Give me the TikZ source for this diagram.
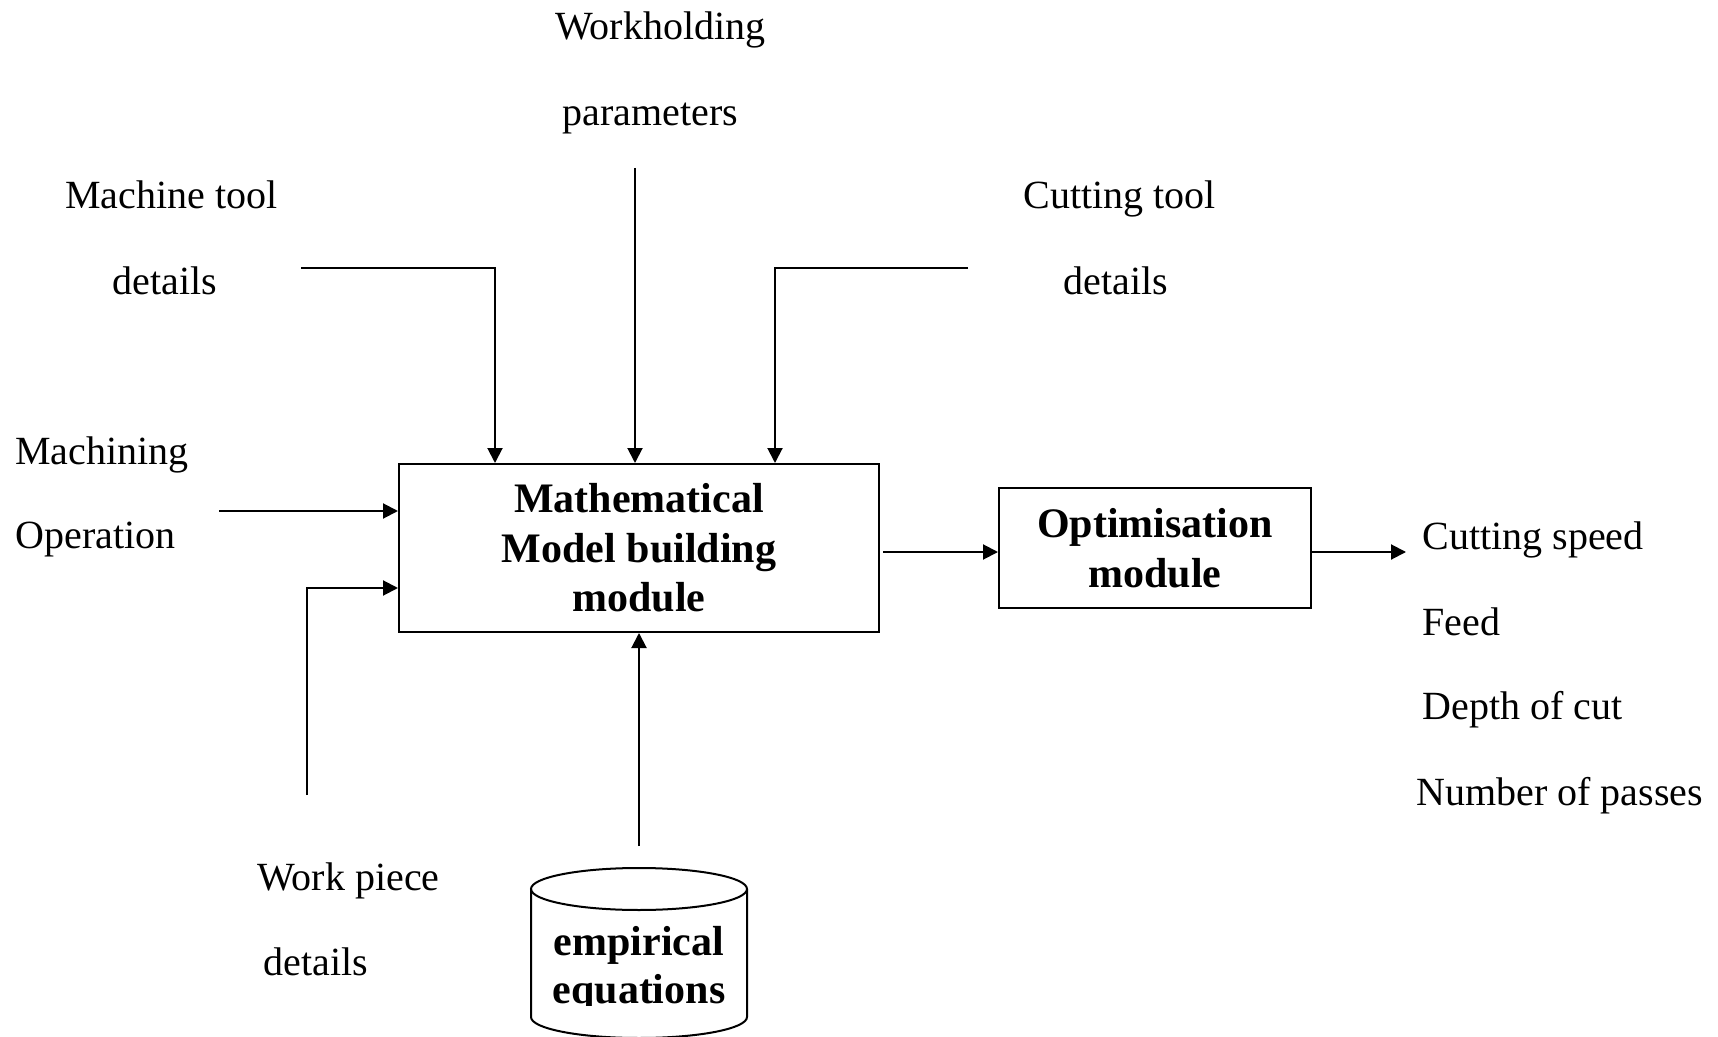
\documentclass[tikz,border=0pt]{standalone}
\usepackage{fontspec}
\setmainfont{Liberation Serif}
\usetikzlibrary{arrows.meta}
\begin{document}
\begin{tikzpicture}[x=0.5pt,y=-0.5pt,
  lbl/.style={inner sep=0pt, anchor=base west, font=\fontsize{20}{24}\selectfont},
  modbox/.style={draw, line width=1pt, inner sep=0pt, align=center, font=\fontsize{21}{24.75}\selectfont\bfseries},
  ln/.style={line width=1pt},
  arr/.style={line width=1pt, -{Triangle[length=7.5pt,width=7.5pt]}}]
\useasboundingbox[fill=white] (0,0) rectangle (1718,1037);

% boxes
\node[modbox, minimum width=240pt, minimum height=84pt] (mbox) at (639,548) {Mathematical\\Model building\\module};
\node[modbox, minimum width=156pt, minimum height=60pt] (obox) at (1155,548) {Optimisation\\module};

% database cylinder
\draw[ln] (531,889) -- (531,1017) arc[start angle=180, end angle=0, x radius=108, y radius=21] -- (747,889);
\draw[ln] (639,889) ellipse [x radius=108, y radius=21];
\begin{scope}
\clip (500,850) rectangle (780,1005);
\node[inner sep=0pt, align=center, font=\fontsize{21}{24}\selectfont\bfseries] (db) at (639,969) {empirical\\equations};
\end{scope}

% labels
\node[lbl] (wh1) at (555,40) {Workholding};
\node[lbl] (wh2) at (562,126) {parameters};
\node[lbl] (mt1) at (65,209) {Machine tool};
\node[lbl] (mt2) at (112,295) {details};
\node[lbl] (ct1) at (1023,209) {Cutting tool};
\node[lbl] (ct2) at (1063,295) {details};
\node[lbl] (mo1) at (15,465) {Machining};
\node[lbl] (mo2) at (15,548) {Operation};
\node[lbl] (wp1) at (257,890) {Work piece};
\node[lbl] (wp2) at (263,975) {details};
\node[lbl] (o1) at (1422,549) {Cutting speed};
\node[lbl] (o2) at (1422,635) {Feed};
\node[lbl] (o3) at (1422,719) {Depth of cut};
\node[lbl] (o4) at (1416,805) {Number of passes};

% connector end points
\coordinate (mtA) at (301,268);
\coordinate (mtB) at (495,268);
\coordinate (whA) at (635,168);
\coordinate (ctA) at (968,268);
\coordinate (ctB) at (775,268);
\coordinate (moA) at (219,511);
\coordinate (wpA) at (307,795);
\coordinate (wpB) at (307,588);
\coordinate (m2o) at (883,552);
\coordinate (outE) at (1406,552);
\coordinate (dbA) at (639,846);

% connectors
\draw[arr] (mtA) -- (mtB) -- (mtB |- mbox.north);
\draw[arr] (whA) -- (whA |- mbox.north);
\draw[arr] (ctA) -- (ctB) -- (ctB |- mbox.north);
\draw[arr] (moA) -- (moA -| mbox.west);
\draw[arr] (wpA) -- (wpB) -- (wpB -| mbox.west);
\draw[arr] (m2o) -- (m2o -| obox.west);
\draw[arr] (obox.east |- outE) -- (outE);
\draw[arr] (dbA) -- (dbA |- mbox.south);
\end{tikzpicture}
\end{document}
